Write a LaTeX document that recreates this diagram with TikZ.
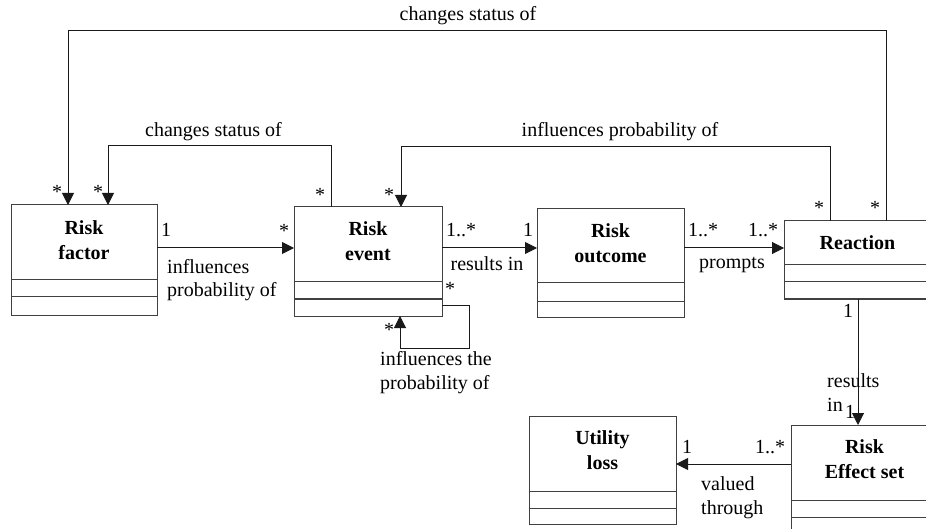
\documentclass[tikz,border=0pt]{standalone}
\usepackage{fontspec}
\setmainfont{Liberation Serif}
\usetikzlibrary{arrows.meta,calc}
\tikzset{
  cls/.style={draw=black!75, line width=1pt, inner sep=0pt, outer sep=0pt, anchor=north west},
  div/.style={draw=black!75, line width=1pt},
  ttl/.style={font=\fontsize{20}{25.5}\selectfont\bfseries, align=center, inner sep=0pt},
  conn/.style={draw=black!90, line width=1pt},
  arr/.style={conn, -{Triangle[length=12pt,width=12pt]}},
  lbl/.style={font=\fontsize{20}{23}\selectfont, inner sep=0pt, anchor=base},
  lbll/.style={font=\fontsize{20}{23.5}\selectfont, inner sep=0pt, anchor=base west, align=left},
}
\begin{document}
\begin{tikzpicture}[x=1pt,y=-1pt]
\useasboundingbox (0,0) rectangle (926,529);
\clip (0,0) rectangle (926,529);

% classes
\node[cls, minimum width=146pt, minimum height=110pt] (rf) at (11,205) {};
\node[cls, minimum width=148pt, minimum height=109pt] (re) at (294,207) {};
\node[cls, minimum width=147pt, minimum height=108pt] (ro) at (537,209) {};
\node[cls, minimum width=147pt, minimum height=78pt] (rx) at (784,221) {};
\node[cls, minimum width=147pt, minimum height=108pt] (ul) at (529,416) {};
\node[cls, minimum width=147pt, minimum height=108pt] (res) at (791,425) {};

% compartments
\foreach \n/\a/\b in {rf/75/92, re/75/92, ro/74/92, rx/44/61, ul/75/92, res/75/92}{
  \draw[div] ($(\n.north west)+(0,\a)$) -- ($(\n.north east)+(0,\a)$);
  \draw[div] ($(\n.north west)+(0,\b)$) -- ($(\n.north east)+(0,\b)$);
}

% titles
\node[ttl] (trf) at ($(rf.north)+(0,35)$) {Risk\\factor};
\node[ttl] (tre) at ($(re.north)+(0,34)$) {Risk\\event};
\node[ttl] (tro) at ($(ro.north)+(0,34)$) {Risk\\outcome};
\node[ttl] (trx) at ($(rx.north)+(0,22)$) {Reaction};
\node[ttl] (tul) at ($(ul.north)+(0,34)$) {Utility\\loss};
\node[ttl] (tres) at ($(res.north)+(0,34)$) {Risk\\Effect set};

% connectors
\draw[arr] ($(rf.north east)+(0,43)$) -- ($(re.north west)+(0,41)$);
\draw[arr] ($(re.north east)+(0,41)$) -- ($(ro.north west)+(0,39)$);
\draw[arr] ($(ro.north east)+(0,39)$) -- ($(rx.north west)+(0,27)$);
\draw[arr] ($(rx.south west)+(74,0)$) -- ($(res.north west)+(67,0)$);
\draw[arr] ($(res.north west)+(0,39)$) -- ($(ul.north east)+(0,48)$);
\draw[arr] ($(re.north west)+(37,0)$) -- ++(0,-61) -| ($(rf.north west)+(97,0)$);
\draw[arr] ($(rx.north west)+(46,0)$) -- ++(0,-74) -| ($(re.north west)+(107,0)$);
\draw[arr] ($(rx.north west)+(102,0)$) -- ++(0,-190) -| ($(rf.north west)+(57,0)$);
\draw[arr] ($(re.south east)+(0,-11)$) -- ++(27,0) -- ++(0,43) -| ($(re.south west)+(106,0)$);

% association labels
\node[lbl] (l1) at (468,21) {changes status of};
\node[lbl] (l2) at (213.5,137) {changes status of};
\node[lbl] (l3) at (620,137) {influences probability of};
\node[lbll] (l4) at (167,297) {influences\\probability of};
\node[lbl] (l5) at (487,271) {results in};
\node[lbl] (l6) at (732,269) {prompts};
\node[lbll] (l7) at (380,389) {influences the\\probability of};
\node[lbll] (l8) at (827,411) {results\\in};
\node[lbl] (l16) at (850,418) {1};
\node[lbll] (l9) at (701,514) {valued\\through};

% multiplicities
\node[lbl] (m1) at (57,199) {*};
\node[lbl] (m2) at (98,199) {*};
\node[lbl] (m3) at (320,202) {*};
\node[lbl] (m4) at (389,202) {*};
\node[lbl] (m5) at (819,215) {*};
\node[lbl] (m6) at (875,215) {*};
\node[lbl] (m7) at (166,237) {1};
\node[lbl] (m8) at (284,238) {*};
\node[lbl] (m9) at (461,237) {1..*};
\node[lbl] (m10) at (528,237) {1};
\node[lbl] (m11) at (703,237) {1..*};
\node[lbl] (m12) at (763,237) {1..*};
\node[lbl] (m13) at (450,295) {*};
\node[lbl] (m14) at (389,336) {*};
\node[lbl] (m15) at (848,317) {1};
\node[lbl] (m17) at (687,453) {1};
\node[lbl] (m18) at (770,453) {1..*};
\end{tikzpicture}
\end{document}
